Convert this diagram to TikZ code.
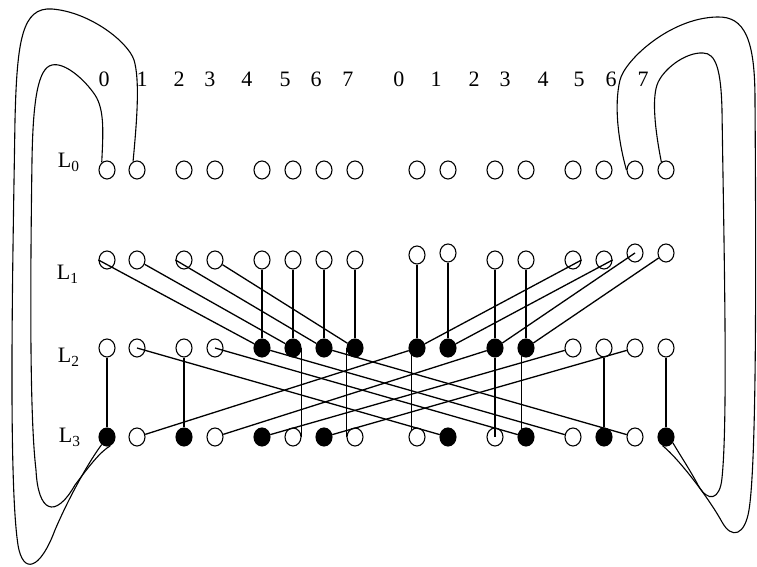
\documentclass[tikz,border=0pt]{standalone}
\usepackage{fontspec}
\setmainfont{Liberation Serif}
\usetikzlibrary{shapes.geometric}
\begin{document}
\begin{tikzpicture}[x=0.5pt,y=-0.5pt]
    \tikzstyle{vtx}=[ellipse, draw, line width=0.55pt, minimum width=8pt, minimum height=9pt, inner sep=0pt]
    \tikzstyle{wire}=[line width=0.65pt]
    \tikzstyle{wrap}=[line width=0.55pt]
    \tikzstyle{lbl}=[font=\fontsize{11}{13}\selectfont, inner sep=0pt, anchor=base]

    \useasboundingbox (0,0) rectangle (757,567);

    \foreach \i/\x/\t/\c/\d in {0/107/104/white/black, 1/137/142/white/white, 2/184/179/white/black, 3/215/210/white/white,
                                4/262/247/black/black, 5/293/285/black/white, 6/324/316/black/black, 7/355/348/black/white} {
      \node[lbl] (ta\i) at (\t,87) {\i};
      \node[vtx] (l0a\i) at (\x,170) {};
      \node[vtx] (l1a\i) at (\x,260) {};
      \node[vtx, fill=\c] (l2a\i) at (\x,348) {};
      \node[vtx, fill=\d] (l3a\i) at (\x,437) {};
    }
    \foreach \i/\x/\t/\y/\c/\d in {0/417/399/255/black/white, 1/448/436/253/black/black, 2/495/474/260/black/white, 3/526/505/260/black/black,
                                   4/573/543/260/white/white, 5/604/579/260/white/black, 6/635/611/253/white/white, 7/666/643/253/white/black} {
      \node[lbl] (tb\i) at (\t,87) {\i};
      \node[vtx] (l0b\i) at (\x,170) {};
      \node[vtx] (l1b\i) at (\x,\y) {};
      \node[vtx, fill=\c] (l2b\i) at (\x,348) {};
      \node[vtx, fill=\d] (l3b\i) at (\x,437) {};
    }

    \node[lbl] (lev0) at (69,168) {L\textsubscript{0}};
    \node[lbl] (lev1) at (68,280) {L\textsubscript{1}};
    \node[lbl] (lev2) at (69,363) {L\textsubscript{2}};
    \node[lbl] (lev3) at (70,443) {L\textsubscript{3}};

    \foreach \i in {4,...,7} \draw[wire] (l1a\i) -- (l2a\i);
    \foreach \i in {0,...,3} \draw[wire] (l1b\i) -- (l2b\i);
    \draw[wire] (l1a0.west) -- (l2a4);
    \draw[wire] (l1a1) -- (l2a5);
    \draw[wire] (l1a2.west) -- (l2a6);
    \draw[wire] (l1a3) -- (l2a7);
    \draw[wire] (l1b4.east) -- (l2b0);
    \draw[wire] (l1b5.east) -- (l2b1);
    \draw[wire] (l1b6.center) -- (l2b2);
    \draw[wire] (l1b7) -- (l2b3);

    \draw[wire] (l2a0) -- (l3a0);
    \draw[wire] (l2a2) -- (l3a2);
    \draw[wire] (l2a5.east) -- (l3a5.east);
    \draw[wire] (l2a7.west) -- (l3a7.west);
    \draw[wire] (l2b0.230) -- (l3b0.130);
    \draw[wire] (l2b2) -- (l3b2.center);
    \draw[wire] (l2b3.240) -- (l3b3.120);
    \draw[wire] (l2b5) -- (l3b5);
    \draw[wire] (l2b7) -- (l3b7);

    \draw[wire] (l2a1.center) -- (l3b1);
    \draw[wire] (l2a3.center) -- (l3b3);
    \draw[wire] (l2a4) -- (l3b4);
    \draw[wire] (l2a6) -- (l3b6);
    \draw[wire] (l3a1) -- (l2b0);
    \draw[wire] (l3a3) -- (l2b2);
    \draw[wire] (l3a4) -- (l2b4);
    \draw[wire] (l3a6) -- (l2b6);

    \draw[wrap] (l0a1.115) .. controls (137,120) and (140,80) .. (134,60)
      .. controls (128,42) and (90,12) .. (52,9)
      .. controls (22,7) and (17,40) .. (15,120)
      .. controls (13,250) and (8,480) .. (18,545)
      .. controls (23,575) and (40,570) .. (55,530)
      .. controls (70,495) and (90,460) .. (l3a0.235);
    \draw[wrap] (l0a0.125) .. controls (103,135) and (105,110) .. (95,95)
      .. controls (85,80) and (65,62) .. (52,65)
      .. controls (38,68) and (33,100) .. (32,160)
      .. controls (30,300) and (30,420) .. (36,470)
      .. controls (38,512) and (55,520) .. (75,485)
      .. controls (90,465) and (100,452) .. (l3a0.290);
    \draw[wrap] (l0b7.120) .. controls (655,130) and (652,100) .. (657,85)
      .. controls (662,70) and (685,52) .. (703,53)
      .. controls (716,53) and (721,70) .. (722,110)
      .. controls (724,250) and (728,420) .. (722,478)
      .. controls (720,500) and (708,503) .. (698,485)
      .. controls (690,470) and (680,455) .. (l3b7.320);
    \draw[wrap] (l0b6.west) .. controls (618,140) and (614,105) .. (620,80)
      .. controls (625,60) and (670,18) .. (717,17)
      .. controls (745,16) and (755,40) .. (755,100)
      .. controls (756,250) and (757,460) .. (749,510)
      .. controls (745,535) and (732,540) .. (722,522)
      .. controls (710,500) and (680,460) .. (l3b7.250);
\end{tikzpicture}
\end{document}
